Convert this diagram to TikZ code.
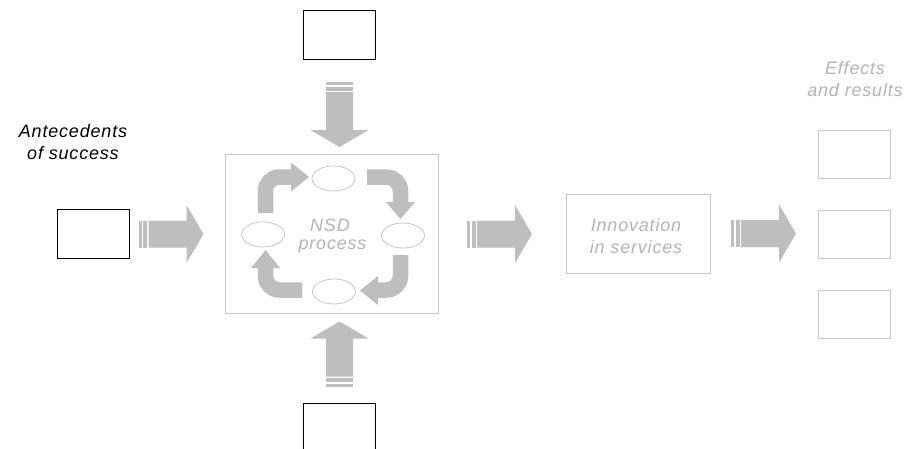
\documentclass[tikz,border=0pt]{standalone}
\usepackage{fontspec}
\setmainfont{Liberation Sans}
\newfontfamily\labelfont{Liberation Sans}[LetterSpace=4.5]
\usetikzlibrary{shapes.geometric}
\definecolor{arrowgrey}{HTML}{BEBEBE}
\definecolor{framegrey}{HTML}{C6C6C6}
\definecolor{textgrey}{HTML}{B4B4B4}
\begin{document}
\begin{tikzpicture}[x=1pt,y=-1pt,
  lbl/.style={inner sep=0pt,font=\labelfont\fontsize{18}{21}\selectfont\itshape},
  greytext/.style={lbl,text=textgrey},
  blackbox/.style={draw=black,line width=1pt,fill=white,inner sep=0pt,
    minimum width=72pt,minimum height=49pt},
  greybox/.style={draw=framegrey,line width=1pt,fill=white,inner sep=0pt,
    minimum width=72pt,minimum height=48pt},
  stage/.style={draw=framegrey,line width=1pt,inner sep=0pt},
  phase/.style={ellipse,draw=framegrey,line width=0.8pt,fill=white,inner sep=0pt,
    minimum width=43pt,minimum height=25pt},
  bentshaft/.style={draw=arrowgrey,line width=15.5pt,rounded corners=14pt,line cap=butt},
  headfill/.style={fill=arrowgrey},
  stripedarrow/.pic={
    \fill[arrowgrey] (0,-13.5) rectangle (3,13.5);
    \fill[arrowgrey] (4.5,-13.5) rectangle (8.5,13.5);
    \fill[arrowgrey] (10,-13.5) -- (48,-13.5) -- (48,-29) -- (65,0)
      -- (48,29) -- (48,13.5) -- (10,13.5) -- cycle;
  }]
\clip (0,0) rectangle (905,448);
\fill[white] (0,0) rectangle (905,448);

% influence boxes
\node[blackbox] (top) at (339.5,35) {};
\node[blackbox] (bottom) at (339.5,428) {};
\node[blackbox] (ante) at (93,233.5) {};

% central process frame
\node[stage,minimum width=213pt,minimum height=159pt] (nsd) at (331.5,233.5) {};
\node[greytext,anchor=base] (nsdA) at (330,231.7) {NSD};
\node[greytext,anchor=base] (nsdB) at (332.5,249.5) {process};

% phases of the cycle
\node[phase] (pT) at (333.5,178.5) {};
\node[phase] (pL) at (263,234.5) {};
\node[phase] (pR) at (403,235.5) {};
\node[phase] (pB) at (334,291.5) {};

% cycle arrows
\draw[bentshaft] (265.5,213) |- (292,177);
\fill[headfill] (291,162.5) -- (309,177) -- (291,191.5) -- cycle;
\draw[bentshaft] (367,177) -| (400.5,203);
\fill[headfill] (386,202) -- (400.5,219) -- (415,202) -- cycle;
\draw[bentshaft] (400.5,255) |- (377,290);
\fill[headfill] (378,276) -- (360,290.5) -- (378,305) -- cycle;
\draw[bentshaft] (302,290) -| (265.5,267);
\fill[headfill] (251,268) -- (265.5,250) -- (280,268) -- cycle;

% innovation stage
\node[stage,minimum width=144pt,minimum height=79pt] (innov) at (638,233.5) {};
\node[greytext,anchor=base] (innovA) at (636,231.7) {Innovation};
\node[greytext,anchor=base] (innovB) at (636,253.3) {in services};

% effects
\node[greybox] (eff1) at (854,154) {};
\node[greybox] (eff2) at (854,234) {};
\node[greybox] (eff3) at (854,314) {};
\node[greytext,anchor=base] (effA) at (855,74.5) {Effects};
\node[greytext,anchor=base] (effB) at (855,96) {and results};

% antecedents label
\node[lbl,anchor=base] (anteA) at (73,137.3) {Antecedents};
\node[lbl,anchor=base] (anteB) at (73,159.3) {of success};

% block arrows between stages
\pic at (138.5,234) {stripedarrow};
\pic at (467,234) {stripedarrow};
\pic at (731,233.5) {stripedarrow};
\pic[rotate=-90] at (339.5,82) {stripedarrow};
\pic[rotate=90] at (339.5,386.5) {stripedarrow};
\end{tikzpicture}
\end{document}
